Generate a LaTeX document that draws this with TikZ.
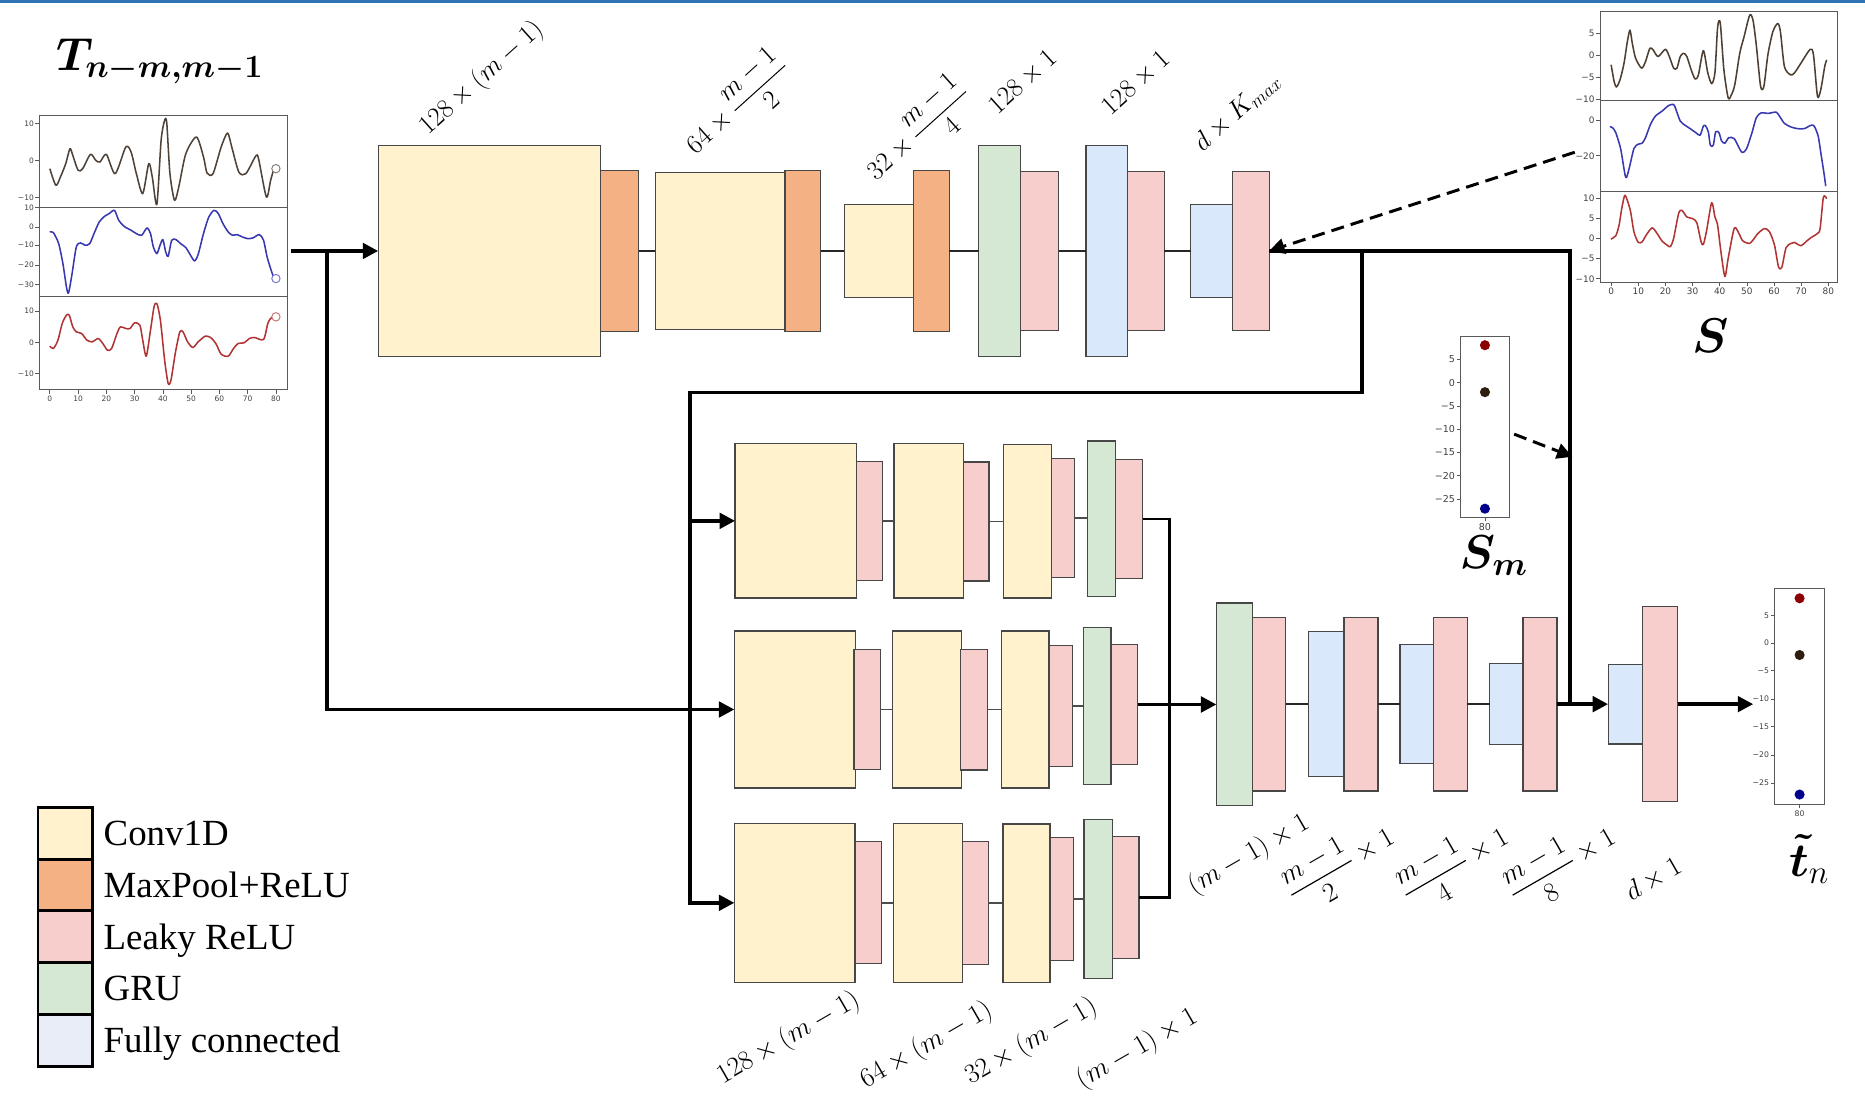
\RequirePackage{fix-cm}
\documentclass[tikz,border=0pt]{standalone}
\usepackage{amsmath,bm}
\usepackage[no-math]{fontspec}
\setmainfont{Liberation Serif}
\newfontfamily\tickfont{DejaVu Sans}
\usetikzlibrary{arrows.meta}
\definecolor{convc}{HTML}{FFF2CC}
\definecolor{poolc}{HTML}{F4B183}
\definecolor{leakc}{HTML}{F8CECC}
\definecolor{gruc}{HTML}{D5E8D4}
\definecolor{fcc}{HTML}{DAE8FC}
\definecolor{fcleg}{HTML}{E8EDF7}
\definecolor{topbar}{HTML}{2E74B5}
\definecolor{cbrown}{HTML}{4F4339}
\definecolor{cblue}{HTML}{3838B0}
\definecolor{cred}{HTML}{B03434}
\definecolor{dred}{HTML}{8B0000}
\definecolor{dbrown}{HTML}{2E1E0E}
\definecolor{dblue}{HTML}{00008B}
\newcommand\blk[6]{\pgfmathsetmacro\blkw{(#5)-(#3)}\pgfmathsetmacro\blkh{(#6)-(#4)}%
  \node[#2, minimum width=\blkw pt, minimum height=\blkh pt] (#1) at ({((#3)+(#5))/2},{((#4)+(#6))/2}) {};}
\tikzset{
  box/.style={rectangle, draw=black!72, line width=1pt, inner sep=0pt, outer sep=0pt},
  conv/.style={box, fill=convc}, pool/.style={box, fill=poolc}, leak/.style={box, fill=leakc},
  gru/.style={box, fill=gruc}, fcbox/.style={box, fill=fcc},
  legbox/.style={rectangle, draw=black, line width=2.3pt, inner sep=0pt, outer sep=0pt},
  legtext/.style={anchor=base west, inner sep=0pt, font=\fontsize{31}{36}\selectfont},
  arrowhd/.style={-{Triangle[length=13pt,width=13pt]}},
  flow/.style={line width=3pt, black, arrowhd},
  flowline/.style={line width=3pt, black},
  link/.style={line width=2.2pt, black!85},
  tlink/.style={line width=1.3pt, black!70},
  mlink/.style={line width=2.3pt, black},
  dashflow/.style={line width=2.5pt, dash pattern=on 11pt off 6pt, arrowhd},
  lbltop/.style={rotate=42, inner sep=0pt, font=\fontsize{22.5}{26}\selectfont},
  lblbot/.style={rotate=30, inner sep=0pt, font=\fontsize{23}{27}\selectfont},
  pframe/.style={draw=black!65, line width=0.8pt},
  ptick/.style={draw=black!65, line width=0.6pt},
  ticklab/.style={inner sep=0.5pt, text=black!75, font=\tickfont\fontsize{#1}{#1}\selectfont},
  ticklab/.default=6.3,
  curve/.style={line width=1.3pt, line join=round},
  endmark/.style={circle, draw, line width=0.8pt, minimum size=7pt, inner sep=0pt, fill=white},
  dot/.style={circle, inner sep=0pt, minimum size=8.5pt},
  bigsym/.style={anchor=base west, inner sep=0pt, font=\fontsize{40}{46}\selectfont}
}
\begin{document}
\begin{tikzpicture}[x=1pt,y=-1pt]
\useasboundingbox (0,0) rectangle (1568,928);
\fill[topbar] (0,0) rectangle (1568,2.8);

% ---------- left input plot ----------
\node[anchor=base west, inner sep=0pt, font=\fontsize{39}{44}\selectfont] (tT) at (47,59) {$\bm{T}_{\bm{n-m,m-1}}$};
\begin{scope}[shift={(1.8,0.4)}, xscale=0.297, yscale=0.28]
  \draw[pframe] (105,345) rectangle (808,1168);
  \draw[pframe] (105,623) -- (808,623) (105,890) -- (808,890);
  \foreach \yy/\lab [count=\i] in {370/10,480/0,592/−10,622/10,680/0,735/−10,795/−20,853/−30,933/10,1027/0,1120/−10}{
    \draw[ptick] (105,\yy) -- ++(-12,0);
    \node[ticklab, anchor=east] (ly\i) at (92,\yy) {\lab};}
  \foreach \lab [count=\i] in {0,10,20,30,40,50,60,70,80}{
    \draw[ptick] ({135+80*(\i-1)},1168) -- ++(0,14);
    \node[ticklab, anchor=north] (lx\i) at ({135+80*(\i-1)},1185) {\lab};}
  \draw[curve, cbrown] plot[smooth, tension=0.45] coordinates {(135,505) (152,555) (165,530) (180,490) (192,445) (200,465) (215,510) (228,505) (250,462) (265,480) (277,485) (295,462) (320,520) (350,440) (365,455) (380,520) (398,580) (415,490) (425,530) (438,612) (450,420) (460,360) (466,368) (475,520) (488,600) (500,560) (520,460) (550,410) (570,470) (580,518) (597,520) (620,440) (638,398) (650,440) (670,515) (690,520) (718,467) (726,476) (748,590) (760,540) (768,510)};
  \draw[curve, cblue] plot[smooth, tension=0.45] coordinates {(135,695) (145,697) (160,730) (172,790) (182,860) (188,878) (198,820) (210,740) (222,728) (235,735) (248,730) (262,695) (275,665) (290,648) (303,640) (318,630) (330,660) (345,678) (365,690) (380,700) (395,705) (410,683) (420,700) (428,740) (438,760) (447,735) (455,718) (463,755) (470,768) (480,720) (492,718) (505,730) (520,742) (535,768) (545,782) (555,762) (570,700) (585,650) (600,630) (612,640) (625,670) (640,695) (652,705) (665,703) (680,710) (695,715) (710,713) (728,703) (740,720) (750,770) (760,805) (768,830)};
  \draw[curve, cred] plot[smooth, tension=0.45] coordinates {(135,1038) (145,1045) (158,1020) (170,970) (182,945) (190,945) (200,980) (210,995) (225,1000) (240,1020) (255,1025) (272,1015) (285,1030) (298,1050) (310,1045) (325,1000) (335,980) (350,985) (362,985) (375,968) (390,975) (398,1020) (408,1068) (420,990) (430,920) (438,910) (448,960) (460,1080) (470,1150) (478,1140) (490,1060) (503,995) (512,995) (525,1025) (540,1042) (555,1025) (575,1008) (590,1012) (605,1030) (620,1062) (640,1068) (655,1045) (668,1030) (685,1028) (700,1015) (715,1012) (740,1018) (752,970) (760,955) (768,950)};
  \node[endmark, draw=cbrown!70] (em1) at (775,505) {};
  \node[endmark, draw=cblue!70] (em2) at (775,835) {};
  \node[endmark, draw=cred!70] (em3) at (775,950) {};
\end{scope}

% ---------- S plot ----------
\begin{scope}[shift={(1113.8,0.3)}, scale=0.278]
  \draw[pframe] (833,35) rectangle (1550,852);
  \draw[pframe] (833,302) -- (1550,302) (833,577) -- (1550,577);
  \foreach \yy/\lab [count=\i] in {100/5,165/0,232/−5,298/−10,363/0,470/−20,598/10,660/5,720/0,781/−5,842/−10}{
    \draw[ptick] (833,\yy) -- ++(-12,0);
    \node[ticklab=7.5, anchor=east] (sy\i) at (818,\yy) {\lab};}
  \foreach \lab [count=\i] in {0,10,20,30,40,50,60,70,80}{
    \draw[ptick] ({866+82.1*(\i-1)},852) -- ++(0,12);
    \node[ticklab=7.5, anchor=north] (sx\i) at ({866+82.1*(\i-1)},866) {\lab};}
  \draw[curve, dbrown!85] plot[smooth, tension=0.45] coordinates {(866,195) (875,245) (882,262) (893,240) (905,190) (915,125) (923,90) (930,130) (940,175) (958,205) (970,185) (983,145) (993,150) (1008,170) (1030,148) (1042,170) (1055,205) (1065,205) (1075,170) (1085,160) (1095,170) (1108,210) (1120,238) (1130,225) (1145,152) (1158,218) (1170,252) (1180,218) (1188,82) (1196,68) (1207,210) (1220,295) (1230,285) (1240,255) (1255,160) (1268,110) (1285,45) (1295,60) (1305,135) (1318,260) (1328,260) (1340,165) (1355,95) (1370,70) (1378,95) (1390,200) (1408,225) (1420,220) (1440,190) (1468,148) (1478,165) (1490,290) (1500,270) (1512,200) (1518,180)};
  \draw[curve, cblue] plot[smooth, tension=0.45] coordinates {(862,382) (870,385) (880,400) (895,450) (910,535) (920,510) (935,448) (948,435) (960,432) (970,415) (985,375) (1000,350) (1020,335) (1040,318) (1055,315) (1062,330) (1075,365) (1090,378) (1105,388) (1122,400) (1135,408) (1145,380) (1152,380) (1160,398) (1166,438) (1175,438) (1182,398) (1192,400) (1200,425) (1210,432) (1222,415) (1238,418) (1250,440) (1262,460) (1275,450) (1292,400) (1305,355) (1320,340) (1340,342) (1365,338) (1375,350) (1390,372) (1410,383) (1430,388) (1450,388) (1470,378) (1480,380) (1492,410) (1500,460) (1510,525) (1515,562)};
  \draw[curve, cred] plot[smooth, tension=0.45] coordinates {(865,722) (880,712) (890,680) (898,630) (907,590) (915,605) (925,640) (935,700) (948,732) (960,730) (972,710) (990,688) (1005,705) (1020,728) (1035,740) (1045,745) (1055,720) (1070,645) (1080,635) (1095,655) (1112,660) (1125,672) (1138,730) (1145,738) (1155,695) (1170,612) (1180,655) (1188,680) (1198,760) (1210,835) (1220,780) (1238,690) (1250,700) (1262,725) (1272,732) (1285,735) (1295,725) (1310,705) (1330,690) (1345,700) (1360,740) (1372,805) (1382,808) (1395,748) (1410,735) (1420,732) (1440,742) (1455,730) (1470,718) (1490,705) (1498,690) (1508,595) (1518,600)};
\end{scope}
\node[bigsym, font=\fontsize{41}{46}\selectfont] (Slab) at (1423,296) {$\bm{S}$};

% ---------- S_m plot ----------
\begin{scope}[shift={(1161.8,269.8)}, scale=0.276]
  \draw[pframe] (240,48) rectangle (388,598);
  \foreach \yy/\lab [count=\i] in {117/5,188/0,259/−5,330/−10,401/−15,472/−20,543/−25}{
    \draw[ptick] (240,\yy) -- ++(-12,0);
    \node[ticklab=8, anchor=east] (my\i) at (225,\yy) {\lab};}
  \draw[ptick] (314,598) -- ++(0,12);
  \node[ticklab=8, anchor=north] (mx80) at (314,614) {80};
  \node[dot, fill=dred] (md1) at (314,74) {};
  \node[dot, fill=dbrown] (md2) at (314,217) {};
  \node[dot, fill=dblue] (md3) at (314,572) {};
\end{scope}
\node[bigsym] (Smlab) at (1227,478) {$\bm{S}_{\bm{m}}$};

% ---------- output plot ----------
\draw[pframe] (1492,494.6) rectangle (1534,676.2);
\foreach \yy/\lab [count=\i] in {517.6/5,540.6/0,564/−5,587.7/−10,611/−15,634.8/−20,658.3/−25}{
  \draw[ptick] (1492,\yy) -- ++(-3,0);
  \node[ticklab=6.5, anchor=east] (oy\i) at (1488,\yy) {\lab};}
\draw[ptick] (1513,676.2) -- ++(0,3);
\node[ticklab=6.5, anchor=north] (ox80) at (1513,681) {80};
\node[dot, fill=dred] (od1) at (1513,503) {};
\node[dot, fill=dbrown] (od2) at (1513,550.7) {};
\node[dot, fill=dblue] (od3) at (1513,668) {};
\node[bigsym] (tlab) at (1504,737) {$\bm{\tilde{t}}_{n}$};

% ---------- top chain ----------
\blk{c1}{conv}{318}{122}{505}{300}
\blk{o1}{pool}{505}{143.5}{537}{278.5}
\blk{c2}{conv}{551}{145}{660}{277}
\blk{o2}{pool}{660}{143.5}{690}{278.5}
\blk{c3}{conv}{710}{172}{768}{250}
\blk{o3}{pool}{768}{143.5}{798}{278.5}
\blk{g1}{gru}{823}{122}{858}{300}
\blk{tp1}{leak}{858}{144}{890}{278}
\blk{b1}{fcbox}{913}{122}{948}{300}
\blk{tp2}{leak}{948}{144}{979}{278}
\blk{b2}{fcbox}{1001}{172}{1036}{250}
\blk{tp3}{leak}{1036}{144}{1067}{278}

% ---------- branch rows ----------
\blk{ra1}{conv}{618}{373}{719.8}{502.8}
\blk{ra2}{leak}{719.8}{387.8}{742}{488.1}
\blk{ra3}{conv}{751.6}{373}{809.9}{502.8}
\blk{ra4}{leak}{809.9}{388.4}{831.5}{488.4}
\blk{ra5}{conv}{843.8}{373.7}{883.7}{502.8}
\blk{ra6}{leak}{883.7}{385.6}{903.2}{485.8}
\blk{ra7}{gru}{914}{370.8}{937.7}{501.2}
\blk{ra8}{leak}{937.7}{386.2}{960.6}{486.4}
\blk{rb1}{conv}{617.4}{530.5}{719.2}{662.5}
\blk{rb2}{leak}{718}{545.9}{740.2}{647.1}
\blk{rb3}{conv}{750.4}{530.5}{808.1}{662.5}
\blk{rb4}{leak}{807.5}{545.9}{830}{647.4}
\blk{rb5}{conv}{842.3}{530.5}{881.9}{662.5}
\blk{rb6}{leak}{881.9}{542.7}{901.4}{644.2}
\blk{rb7}{gru}{910.7}{527.6}{934.1}{659.6}
\blk{rb8}{leak}{934.1}{541.7}{956.6}{642.9}
\blk{rc1}{conv}{617.4}{692.1}{718.9}{826}
\blk{rc2}{leak}{718.9}{707.8}{741.4}{810.3}
\blk{rc3}{conv}{751}{692.1}{809.3}{825.7}
\blk{rc4}{leak}{809.3}{707.8}{830.9}{810.6}
\blk{rc5}{conv}{843.2}{692.7}{882.8}{826}
\blk{rc6}{leak}{882.8}{704.3}{902.3}{807.4}
\blk{rc7}{gru}{911.3}{689.2}{935.3}{822.8}
\blk{rc8}{leak}{935.3}{703}{957.6}{805.8}

% ---------- final chain ----------
\blk{fg}{gru}{1022.7}{507}{1053}{677}
\blk{fp1}{leak}{1053}{519}{1081}{665}
\blk{fb1}{fcbox}{1100}{531}{1130}{653}
\blk{fp2}{leak}{1130}{519}{1158.6}{665}
\blk{fb2}{fcbox}{1177}{542}{1205}{642}
\blk{fp3}{leak}{1205}{519}{1233.5}{665}
\blk{fb3}{fcbox}{1252.5}{558}{1280.5}{626}
\blk{fp4}{leak}{1280.5}{519}{1309}{665}
\blk{fb4}{fcbox}{1352}{558.5}{1381}{625.5}
\blk{fp5}{leak}{1381}{510}{1410.5}{674}

% ---------- legend ----------
\blk{lg1}{legbox, fill=convc}{32}{679}{78}{722.5}
\blk{lg2}{legbox, fill=poolc}{32}{722.5}{78}{765.7}
\blk{lg3}{legbox, fill=leakc}{32}{765.7}{78}{809.4}
\blk{lg4}{legbox, fill=gruc}{32}{809.4}{78}{852.8}
\blk{lg5}{legbox, fill=fcleg}{32}{852.8}{78}{896.5}
\node[legtext] (lt1) at (87,711) {Conv1D};
\node[legtext] (lt2) at (87,754.5) {MaxPool+ReLU};
\node[legtext] (lt3) at (87,798) {Leaky ReLU};
\node[legtext] (lt4) at (87,841.5) {GRU};
\node[legtext] (lt5) at (87,885) {Fully connected};

% ---------- coordinates ----------
\coordinate (tin) at (245,211);
\coordinate (j1) at (275,211);
\coordinate (j2) at (1145,211);
\coordinate (j3) at (1320,211);
\coordinate (k1) at (580,330);
\coordinate (mx) at (983,600);
\coordinate (tout) at (1474,592);
\coordinate (sd) at (1324,128);
\coordinate (smd) at (1273,365);
\coordinate (smt) at (1322,384);

% ---------- connectors ----------
\draw[flow] (tin) -- (c1.west);
\draw[flow] (j1) |- (rb1.west);
\draw[link] (o1.east) -- (o1.east -| c2.west);
\draw[link] (o2.east) -- (o2.east -| c3.west);
\draw[link] (o3.east) -- (o3.east -| g1.west);
\draw[link] (tp1.east) -- (tp1.east -| b1.west);
\draw[link] (tp2.east) -- (tp2.east -| b2.west);
\draw[flowline] (tp3.east) -- (j3) -- (j3 |- fp4.east);
\draw[flow] (j2) |- (k1) |- (rc1.west);
\draw[flow] (k1 |- ra1.west) -- (ra1.west);
\foreach \r in {ra,rb,rc}{
  \foreach \a/\b in {2/3,4/5,6/7}{
    \draw[tlink] (\r\a.east) -- (\r\a.east -| \r\b.west);}}
\draw[mlink] (ra8.east) -- (ra8.east -| mx) -- (rc8.east -| mx) -- (rc8.east);
\draw[flow] (rb8.east) -- (rb8.east -| fg.west);
\draw[link] (fp1.east) -- (fp1.east -| fb1.west);
\draw[link] (fp2.east) -- (fp2.east -| fb2.west);
\draw[link] (fp3.east) -- (fp3.east -| fb3.west);
\draw[flow] (fp4.east) -- (fp4.east -| fb4.west);
\draw[flow] (fp5.east) -- (fp5.east -| tout);
\draw[dashflow] (sd) -- (tp3.east);
\draw[dashflow] (smd) -- (smt);

% ---------- labels ----------
\node[lbltop] (la1) at (405,66) {$128\times(m-1)$};
\node[lbltop] (la2) at (620,89) {$64\times\dfrac{m-1}{2}$};
\node[lbltop] (la3) at (772,111) {$32\times\dfrac{m-1}{4}$};
\node[lbltop] (la4) at (860,69) {$128\times1$};
\node[lbltop] (la5) at (955,70) {$128\times1$};
\node[lbltop] (la6) at (1040,94) {$d\times K_{max}$};
\node[lblbot] (lb1) at (663,873) {$128\times(m-1)$};
\node[lblbot] (lb2) at (779,879) {$64\times(m-1)$};
\node[lblbot] (lb3) at (867,876) {$32\times(m-1)$};
\node[lblbot] (lb4) at (956,882) {$(m-1)\times1$};
\node[lblbot] (lc1) at (1050,719) {$(m-1)\times1$};
\node[lblbot] (lc2) at (1127,727) {$\dfrac{m-1}{2}\times1$};
\node[lblbot] (lc3) at (1223,727) {$\dfrac{m-1}{4}\times1$};
\node[lblbot] (lc4) at (1313,727) {$\dfrac{m-1}{8}\times1$};
\node[lblbot] (lc5) at (1390,739) {$d\times1$};
\end{tikzpicture}
\end{document}
